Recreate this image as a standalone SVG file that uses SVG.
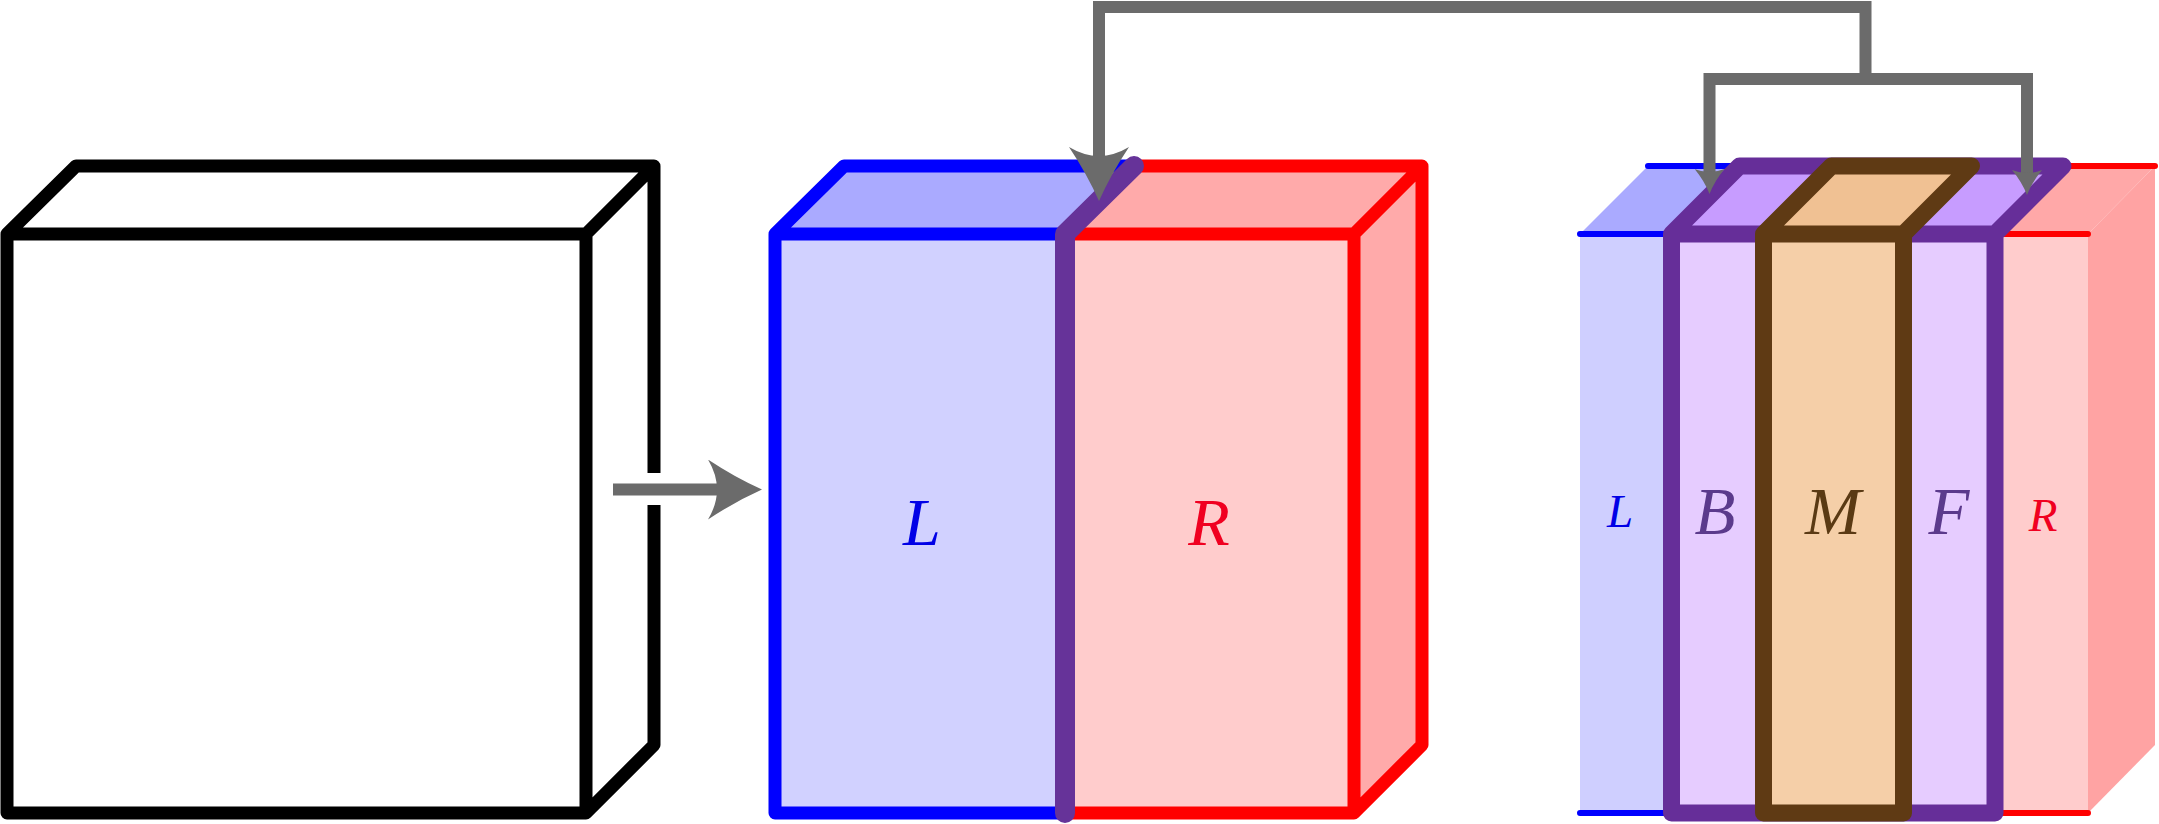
<svg xmlns="http://www.w3.org/2000/svg" width="2159" height="824" viewBox="0 0 2159 824">
<style>
.e{fill:none;stroke-linejoin:round;stroke-linecap:round}
.k{stroke:#000;stroke-width:13}
.b{stroke:#0000ff;stroke-width:13}
.r{stroke:#ff0000;stroke-width:13}
.bt{stroke:#0000ff;stroke-width:6}
.rt{stroke:#ff0000;stroke-width:6}
.p{stroke:#662e99;stroke-width:17}
.p2{stroke:#663399;stroke-width:20}
.m{stroke:#5f3a14;stroke-width:17}
.c{fill:none;stroke:#6b6b6b;stroke-width:12;stroke-linejoin:miter}
.t{font-family:"Liberation Serif",serif;font-style:italic;text-anchor:middle}
.lb{fill:#0000e6}.lr{fill:#f00020}.lp{fill:#5b3a8c}.lm{fill:#5a3a14}
</style>
<defs>
<marker id="big" markerUnits="userSpaceOnUse" markerWidth="54" markerHeight="60" viewBox="0 0 54 60" refX="15" refY="30" orient="auto"><path d="M0,0Q27,18 54,30Q27,42 0,60Q18,30 0,0Z" fill="#6b6b6b"/></marker>
<marker id="small" markerUnits="userSpaceOnUse" markerWidth="25" markerHeight="30" viewBox="0 0 25 30" refX="6" refY="15" orient="auto-start-reverse"><path d="M0,0Q12,10 25,15Q12,20 0,30Q6,15 0,0Z" fill="#6b6b6b"/></marker>
</defs>
<rect width="2159" height="824" fill="#fff"/>

<g id="cube-whole">
<path class="e k" d="M7,234H586V813H7ZM7,234L76,166H654V745L586,813M586,234L654,166"/>
<rect x="645" y="473" width="17" height="32" fill="#fff"/>
</g>

<g id="cube-split">
<g id="part-L">
<path d="M775,234H1065V813H775Z" fill="#d1d1ff"/>
<path d="M775,234L844,166H1134L1065,234Z" fill="#aaaaff"/>
<path class="e b" d="M1065,813H775V234H1065M775,234L844,166H1134"/>
<text class="t lb" x="922" y="545" font-size="68">L</text>
</g>
<g id="part-R">
<path d="M1065,234H1354V813H1065Z" fill="#ffcccc"/>
<path d="M1065,234L1134,166H1422L1354,234Z" fill="#ffaaaa"/>
<path d="M1354,234L1422,166V745L1354,813Z" fill="#ffaaaa"/>
<path class="e r" d="M1065,234H1354V813H1065M1134,166H1422V745L1354,813M1354,234L1422,166"/>
<text class="t lr" x="1209" y="545" font-size="68">R</text>
</g>
<path id="cut" class="e p2" d="M1065,813V234L1134,166"/>
</g>

<g id="cube-slices">
<g id="slice-L">
<path d="M1580,234H1671V813H1580Z" fill="#cfcfff"/>
<path d="M1580,234L1648,166H1740L1671,234Z" fill="#aaaaff"/>
<path class="e bt" d="M1671,234H1580M1648,166H1740M1671,813H1580"/>
<text class="t lb" x="1620" y="527" font-size="47">L</text>
</g>
<g id="slice-R">
<path d="M1995,234H2088V813H1995Z" fill="#ffcccc"/>
<path d="M1995,234L2063,166H2155L2088,234Z" fill="#ffa8a8"/>
<path d="M2088,234L2155,166V745L2088,813Z" fill="#ffa3a3"/>
<path class="e rt" d="M1995,234H2088M2063,166H2155M1995,813H2088"/>
<text class="t lr" x="2043" y="531" font-size="47">R</text>
</g>
<g id="slice-BF">
<path d="M1671.5,234H1995V813H1671.5Z" fill="#e6ccff"/>
<path d="M1671.5,234L1739.5,166H2063L1995,234Z" fill="#c79cff"/>
<path class="e p" d="M1671.5,234H1995V813H1671.5ZM1671.5,234L1739.5,166H2063L1995,234"/>
<text class="t lp" x="1715" y="534" font-size="67">B</text>
<text class="t lp" x="1949" y="534" font-size="67">F</text>
</g>
<g id="slice-M">
<path d="M1763.5,234H1903.5V813H1763.5Z" fill="#f5cfa8"/>
<path d="M1763.5,234L1831.5,166H1971.5L1903.5,234Z" fill="#f0c193"/>
<path class="e m" d="M1763.5,234H1903.5V813H1763.5ZM1763.5,234L1831.5,166H1971.5L1903.5,234"/>
<text class="t lm" x="1833" y="534" font-size="67">M</text>
</g>
</g>

<g id="connectors">
<path class="c" d="M613,489.5H723" marker-end="url(#big)"/>
<path class="c" d="M1865.5,79V7H1099V162" marker-end="url(#big)"/>
<path class="c" d="M1709.5,175V79H2027V176" marker-start="url(#small)" marker-end="url(#small)"/>
</g>
</svg>
